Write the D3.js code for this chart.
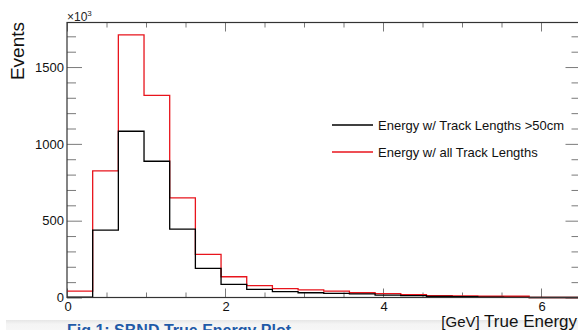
<!DOCTYPE html>
<html>
<head>
<meta charset="utf-8">
<script src="https://cdn.jsdelivr.net/npm/d3@7"></script>
<style>
    body { margin: 0; background: #fff; }
    svg { display: block; font-family: 'Liberation Sans', Arial, sans-serif; }
</style>
</head>
<body>
<div id="chart"></div>
<script>
const width = 578;
const height = 330;

// bin low edges in GeV (20 bins, last edge 6.5)
const binEdges = [0, 0.325, 0.65, 0.975, 1.3, 1.625, 1.95, 2.275, 2.6, 2.925,
    3.25, 3.575, 3.9, 4.225, 4.55, 4.875, 5.2, 5.525, 5.85, 6.175, 6.5];
const allTracks = [42, 824, 1710, 1316, 649, 281, 135, 77, 58, 49,
    42, 31, 25, 18, 12, 10, 8, 8, 0, 0];
const longTracks = [3, 439, 1082, 887, 445, 190, 86, 53, 38, 31,
    27, 23, 16, 12, 7, 6, 3, 1, 0, 0];
const xMajorTicks = [0, 2, 4, 6];
const yMajorTicks = [0, 500, 1000, 1500];
const legendLabels = ['Energy w/ Track Lengths >50cm', 'Energy w/ all Track Lengths'];
const legendColors = ['#000000', '#e8141c'];

const margin = { left: 67, top: 22.5, right: 580.5, bottom: 297.5 };

function stepPoints(values) {
    const pts = [];
    values.forEach((v, i) => {
        pts.push([binEdges[i], v]);
        pts.push([binEdges[i + 1], v]);
    });
    pts.push([binEdges[binEdges.length - 1], 0]);
    return pts;
}

function buildChart() {
    const svg = d3.select('#chart')
        .append('svg')
        .attr('width', width)
        .attr('height', height);

    const xScale = d3.scaleLinear()
        .domain([0, 6.5])
        .range([margin.left, margin.right]);

    const yScale = d3.scaleLinear()
        .domain([0, 1790])
        .range([margin.bottom, margin.top]);

    const xMinor = d3.range(0, 6.5, 0.5).filter(v => v % 2 !== 0);
    const yMinor = d3.range(0, 1790, 100).filter(v => v % 500 !== 0);

    // bottom gray band with the figure caption
    const grad = svg.append('defs').append('linearGradient')
        .attr('id', 'band')
        .attr('x1', 0).attr('x2', 0).attr('y1', 0).attr('y2', 1);
    grad.append('stop').attr('offset', '0%').attr('stop-color', '#e6e6e6');
    grad.append('stop').attr('offset', '40%').attr('stop-color', '#f4f4f4');
    grad.append('stop').attr('offset', '100%').attr('stop-color', '#f6f6f6');
    svg.append('rect')
        .attr('x', 6).attr('y', 320)
        .attr('width', width - 6).attr('height', 10)
        .attr('fill', 'url(#band)');
    svg.append('text')
        .attr('x', 67)
        .attr('y', 336)
        .attr('fill', '#1f5aa8')
        .style('font-size', '16px')
        .style('font-weight', 'bold')
        .text('Fig 1: SBND True Energy Plot');

    // ticks drawn inside the frame, ROOT style
    const tickColor = '#7a7a7a';
    const axes = svg.append('g');

    const addAxis = (axis, transform) => {
        const g = axes.append('g').attr('transform', transform).call(axis);
        g.select('.domain').remove();
        g.selectAll('line').attr('stroke', tickColor).attr('stroke-width', 1);
        return g;
    };

    addAxis(d3.axisBottom(xScale).tickValues(xMajorTicks).tickSize(-9).tickFormat(''),
        `translate(0,${margin.bottom})`);
    addAxis(d3.axisBottom(xScale).tickValues(xMinor).tickSize(-5).tickFormat(''),
        `translate(0,${margin.bottom})`);
    addAxis(d3.axisTop(xScale).tickValues(xMajorTicks).tickSize(-9).tickFormat(''),
        `translate(0,${margin.top})`);
    addAxis(d3.axisTop(xScale).tickValues(xMinor).tickSize(-5).tickFormat(''),
        `translate(0,${margin.top})`);
    addAxis(d3.axisLeft(yScale).tickValues(yMajorTicks).tickSize(-15).tickFormat(''),
        `translate(${margin.left},0)`);
    addAxis(d3.axisLeft(yScale).tickValues(yMinor).tickSize(-9).tickFormat(''),
        `translate(${margin.left},0)`);
    addAxis(d3.axisRight(yScale).tickValues(yMajorTicks).tickSize(-15).tickFormat(''),
        `translate(${margin.right},0)`);
    addAxis(d3.axisRight(yScale).tickValues(yMinor).tickSize(-9).tickFormat(''),
        `translate(${margin.right},0)`);

    // tick labels
    svg.append('g').selectAll('text')
        .data(xMajorTicks)
        .enter()
        .append('text')
        .attr('x', d => xScale(d) + 1)
        .attr('y', 311)
        .attr('text-anchor', 'middle')
        .style('font-size', '13px')
        .attr('fill', '#111')
        .text(d => d);

    svg.append('g').selectAll('text')
        .data(yMajorTicks)
        .enter()
        .append('text')
        .attr('x', margin.left - 3)
        .attr('y', d => yScale(d))
        .attr('dy', '0.36em')
        .attr('text-anchor', 'end')
        .style('font-size', '13px')
        .attr('fill', '#111')
        .text(d => d);

    svg.append('text')
        .attr('x', 67)
        .attr('y', 21)
        .style('font-size', '12px')
        .attr('fill', '#222')
        .html('×10<tspan dy="-5" font-size="8px">3</tspan>');

    // histograms
    const line = d3.line()
        .x(d => xScale(d[0]))
        .y(d => yScale(d[1]));

    svg.append('path')
        .datum(stepPoints(allTracks))
        .attr('d', line)
        .attr('fill', 'none')
        .attr('stroke', legendColors[1])
        .attr('stroke-width', 1.3);

    svg.append('path')
        .datum(stepPoints(longTracks))
        .attr('d', line)
        .attr('fill', 'none')
        .attr('stroke', legendColors[0])
        .attr('stroke-width', 1.3);

    // frame
    svg.append('rect')
        .attr('x', margin.left)
        .attr('y', margin.top)
        .attr('width', margin.right - margin.left)
        .attr('height', margin.bottom - margin.top)
        .attr('fill', 'none')
        .attr('stroke', '#333')
        .attr('stroke-width', 1.2);

    // axis titles
    svg.append('text')
        .attr('transform', 'translate(24,22) rotate(-90)')
        .attr('text-anchor', 'end')
        .style('font-size', '19px')
        .attr('fill', '#111')
        .text('Events');

    svg.append('text')
        .attr('x', 577)
        .attr('y', 327)
        .attr('text-anchor', 'end')
        .style('font-size', '17px')
        .attr('fill', '#111')
        .html('<tspan font-size="15px">[GeV]</tspan> True Energy');

    // legend
    const legend = svg.append('g');
    legendLabels.forEach((label, i) => {
        const y = 125 + i * 27;
        legend.append('line')
            .attr('x1', 332).attr('x2', 373)
            .attr('y1', y).attr('y2', y)
            .attr('stroke', legendColors[i])
            .attr('stroke-width', 1.5);
        legend.append('text')
            .attr('x', 378)
            .attr('y', y)
            .attr('dy', '0.36em')
            .style('font-size', '13px')
            .attr('fill', '#111')
            .text(label);
    });
}

document.addEventListener('DOMContentLoaded', () => buildChart());
</script>
</body>
</html>
